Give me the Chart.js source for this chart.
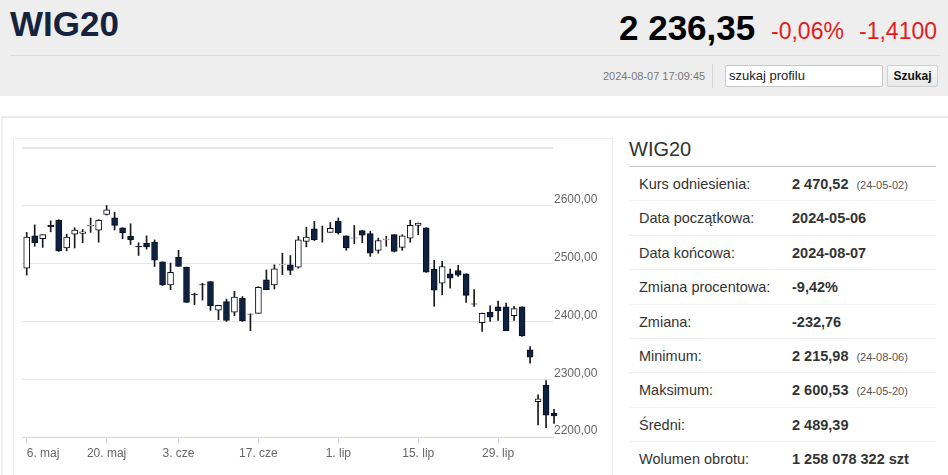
<!DOCTYPE html>
<html lang="pl">
<head>
<meta charset="UTF-8">
<title>WIG20</title>
<script src="https://cdn.jsdelivr.net/npm/chart.js"></script>
<style>
  body { margin: 0; width: 948px; height: 475px; overflow: hidden; font-family: "Liberation Sans", Arial, sans-serif; background: #fff; position: relative; }
  .top { position: absolute; left: 0; top: 0; width: 948px; height: 96px; background: #eeeeee; }
  .name { position: absolute; left: 10px; top: 4px; font-size: 35px; font-weight: bold; color: #15233f; }
  .price { position: absolute; left: 619px; top: 8px; font-size: 35px; font-weight: bold; color: #000; }
  .pct { position: absolute; left: 771px; top: 18px; font-size: 23px; color: #e41b1b; }
  .chg { position: absolute; left: 859px; top: 18px; font-size: 23px; color: #e41b1b; }
  .sep { position: absolute; left: 10px; top: 55px; width: 930px; height: 1px; background: #dcdcdc; }
  .time { position: absolute; left: 603px; top: 70px; font-size: 11px; color: #777; }
  .vsep { position: absolute; left: 712px; top: 64px; width: 1px; height: 24px; background: #d6d6d6; }
  .search { position: absolute; left: 725px; top: 65px; border: 1px solid #c8c8c8; border-radius: 2px; background: #fff; font-size: 13px; line-height: 20px; padding-left: 3px; box-sizing: border-box; width: 158px; height: 22px; color: #222; }
  .btn { position: absolute; left: 887px; top: 65px; width: 51px; height: 22px; border: 1px solid #d0d0d0; border-radius: 2px; background: linear-gradient(#fafafa, #e8e8e8); font-size: 12px; font-weight: bold; line-height: 20px; text-align: center; box-sizing: border-box; color: #111; }
  .panel { position: absolute; left: 1px; top: 116px; width: 947px; height: 400px; border-top: 2px solid #e8e8e8; border-left: 2px solid #efefef; }
  .card { position: absolute; left: 13px; top: 138px; width: 598px; height: 345px; border: 1px solid #ececec; }
  .box { position: absolute; left: 14px; top: 139px; width: 598px; height: 336px; }
  .info { position: absolute; left: 629px; top: 136px; width: 307px; }
  .info h2 { margin: 0; font-size: 20px; font-weight: normal; color: #333; height: 30px; line-height: 26px; border-bottom: 1px solid #c4c4c4; }
  .row { height: 34.4px; line-height: 34px; border-bottom: 1px solid #efefef; font-size: 14.5px; color: #333; position: relative; box-sizing: border-box; }
  .row span.l { position: absolute; left: 10px; }
  .row span.v { position: absolute; left: 163px; font-weight: bold; }
  .row small { font-size: 11px; font-weight: normal; color: #555; margin-left: 8px; }
</style>
</head>
<body>
<div class="top">
  <div class="name">WIG20</div>
  <div class="price">2 236,35</div>
  <div class="pct">-0,06%</div>
  <div class="chg">-1,4100</div>
  <div class="sep"></div>
  <div class="time">2024-08-07 17:09:45</div>
  <div class="vsep"></div>
  <div class="search">szukaj profilu</div>
  <div class="btn">Szukaj</div>
</div>
<div class="panel"></div>
<div class="card"></div>
<div class="box"><canvas id="wig"></canvas></div>
<div class="info">
  <h2>WIG20</h2>
  <div class="row"><span class="l">Kurs odniesienia:</span><span class="v">2 470,52<small>(24-05-02)</small></span></div>
  <div class="row"><span class="l">Data początkowa:</span><span class="v">2024-05-06</span></div>
  <div class="row"><span class="l">Data końcowa:</span><span class="v">2024-08-07</span></div>
  <div class="row"><span class="l">Zmiana procentowa:</span><span class="v">-9,42%</span></div>
  <div class="row"><span class="l">Zmiana:</span><span class="v">-232,76</span></div>
  <div class="row"><span class="l">Minimum:</span><span class="v">2 215,98<small>(24-08-06)</small></span></div>
  <div class="row"><span class="l">Maksimum:</span><span class="v">2 600,53<small>(24-05-20)</small></span></div>
  <div class="row"><span class="l">Średni:</span><span class="v">2 489,39</span></div>
  <div class="row" style="border-bottom:none"><span class="l">Wolumen obrotu:</span><span class="v">1 258 078 322 szt</span></div>
</div>

<script>
  // sesje (dni notowań) od 6 maja do 7 sierpnia 2024
  const dates = [
    '2024-05-06','2024-05-07','2024-05-08','2024-05-09','2024-05-10',
    '2024-05-13','2024-05-14','2024-05-15','2024-05-16','2024-05-17',
    '2024-05-20','2024-05-21','2024-05-22','2024-05-23','2024-05-24',
    '2024-05-27','2024-05-28','2024-05-29','2024-05-31',
    '2024-06-03','2024-06-04','2024-06-05','2024-06-06','2024-06-07',
    '2024-06-10','2024-06-11','2024-06-12','2024-06-13','2024-06-14',
    '2024-06-17','2024-06-18','2024-06-19','2024-06-20','2024-06-21',
    '2024-06-24','2024-06-25','2024-06-26','2024-06-27','2024-06-28',
    '2024-07-01','2024-07-02','2024-07-03','2024-07-04','2024-07-05',
    '2024-07-08','2024-07-09','2024-07-10','2024-07-11','2024-07-12',
    '2024-07-15','2024-07-16','2024-07-17','2024-07-18','2024-07-19',
    '2024-07-22','2024-07-23','2024-07-24','2024-07-25','2024-07-26',
    '2024-07-29','2024-07-30','2024-07-31',
    '2024-08-01','2024-08-02','2024-08-05','2024-08-06','2024-08-07'
  ];

  const open = [
    2492, 2548, 2543, 2566, 2575, 2527, 2551, 2552, 2565, 2558,
    2585, 2579, 2562, 2547, 2530, 2535, 2537, 2503, 2463,
    2511, 2494, 2447, 2463.5, 2469, 2419.5, 2434.5, 2416, 2440, 2412.6,
    2414, 2472, 2463, 2498, 2498, 2494, 2538.5, 2560, 2547, 2554,
    2573, 2548, 2544, 2557, 2552, 2523, 2542, 2550, 2528, 2544,
    2566, 2562, 2490, 2466, 2482.5, 2488, 2482.5, 2430.5, 2398, 2416,
    2425, 2425, 2410, 2425, 2351, 2261, 2290, 2241
  ];
  const high = [
    2554, 2567, 2550, 2574, 2576, 2551, 2562, 2559, 2579, 2576,
    2600.53, 2589, 2562, 2569, 2536, 2548, 2541, 2503, 2501,
    2523, 2494, 2449, 2466, 2469, 2428, 2438.6, 2452, 2443, 2413,
    2460, 2489, 2498, 2518, 2514, 2547, 2563, 2573, 2565, 2571,
    2579, 2548, 2566, 2557.5, 2556, 2544, 2547, 2550, 2550, 2575,
    2570, 2562, 2505.6, 2504, 2490.6, 2497, 2482.5, 2455, 2414.5, 2427,
    2435, 2431.6, 2426, 2425, 2356.6, 2273, 2297.6, 2248
  ];
  const low = [
    2480, 2530, 2528, 2555, 2521, 2522, 2527, 2536, 2554, 2537,
    2584, 2558, 2543, 2533, 2514, 2525, 2495, 2462, 2455,
    2495, 2433, 2429, 2437, 2419, 2403, 2400, 2410, 2400, 2384,
    2414, 2455, 2456, 2481, 2481, 2492, 2529, 2540, 2537, 2554,
    2551, 2523, 2534.5, 2536, 2512.5, 2518, 2530, 2520, 2523, 2537,
    2550, 2485, 2426, 2446, 2457.6, 2478, 2433, 2426, 2382.5, 2400,
    2401.6, 2384, 2401.6, 2374, 2327.7, 2221, 2215.98, 2223.7
  ];
  const close = [
    2546, 2536, 2550, 2564, 2522, 2546, 2558, 2555, 2566, 2575,
    2593, 2566, 2553, 2541, 2529, 2529, 2506, 2463, 2485,
    2495, 2433, 2446, 2463, 2427, 2428, 2401.6, 2442, 2401, 2412.4,
    2459, 2455, 2491, 2498.5, 2488, 2541, 2546, 2541, 2547, 2561,
    2553, 2527, 2544.5, 2549, 2518, 2540, 2542.5, 2521, 2548, 2566,
    2570, 2485, 2454, 2495, 2475, 2480, 2445, 2430, 2414, 2407.5,
    2418, 2384, 2422, 2375, 2338, 2266, 2237.76, 2236.35
  ];

  const tickDates = ['2024-05-06','2024-05-20','2024-06-03','2024-06-17','2024-07-01','2024-07-15','2024-07-29'];
  const tickLabels = ['6. maj','20. maj','3. cze','17. cze','1. lip','15. lip','29. lip'];

  const bodies = dates.map((d, i) => ({ x: i, y: [open[i], close[i]] }));
  const wicks = dates.map((d, i) => ({ x: i, y: [low[i], high[i]] }));

  // ostatnia świeca wystaje lekko poza siatkę, jak w oryginale
  const xMin = -0.59, xMax = 65.87;

  const ctx = document.getElementById('wig').getContext('2d');
  new Chart(ctx, {
    type: 'bar',
    data: {
      datasets: [{
        data: bodies,
        grouped: false,
        clip: false,
        order: 0,
        barThickness: 6,
        borderWidth: 1,
        borderSkipped: false,
        borderColor: '#0a0f1a',
        backgroundColor: c => close[c.dataIndex] < open[c.dataIndex] ? '#0e2140' : '#ffffff'
      }, {
        data: wicks,
        grouped: false,
        clip: false,
        order: 1,
        barThickness: 1,
        borderWidth: 0,
        backgroundColor: '#1a1a1a'
      }]
    },
    options: {
      responsive: true,
      maintainAspectRatio: false,
      animation: false,
      layout: { padding: { left: 8, top: 9, right: 0, bottom: 10 } },
      plugins: { legend: { display: false }, tooltip: { enabled: false } },
      scales: {
        x: {
          type: 'linear',
          offset: false,
          min: xMin,
          max: xMax,
          // ticki tylko na wybranych sesjach + pusty na końcu osi (dla align: inner)
          afterBuildTicks: s => {
            s.ticks = tickDates.map(d => ({ value: dates.indexOf(d) }));
            s.ticks.push({ value: xMax });
          },
          afterFit: s => { s.height = 28; s.paddingLeft = 0; s.paddingRight = 0; },
          ticks: {
            autoSkip: false,
            maxRotation: 0,
            align: 'inner',
            padding: 3,
            color: '#666',
            font: { family: 'Liberation Sans', size: 12 },
            callback: v => v === xMax ? '' : tickLabels[tickDates.indexOf(dates[v])]
          },
          grid: {
            drawOnChartArea: false,
            tickLength: 6,
            offset: false,
            color: c => c.tick && c.tick.value === xMax ? 'rgba(0,0,0,0)' : '#ccd6eb'
          },
          border: { color: '#ccd6eb' }
        },
        y: {
          position: 'right',
          min: 2200,
          max: 2700,
          afterFit: s => { s.width = 59; s.paddingTop = 0; s.paddingBottom = 0; },
          ticks: {
            stepSize: 100,
            padding: 1,
            labelOffset: -6,
            color: '#666',
            font: { family: 'Liberation Sans', size: 12 },
            callback: v => v === 2700 ? '' : v.toFixed(2).replace('.', ',')
          },
          grid: {
            drawTicks: false,
            color: '#e6e6e6',
            lineWidth: c => c.tick && c.tick.value === 2700 ? 2 : 1
          },
          border: { display: false }
        }
      }
    }
  });
</script>
</body>
</html>
